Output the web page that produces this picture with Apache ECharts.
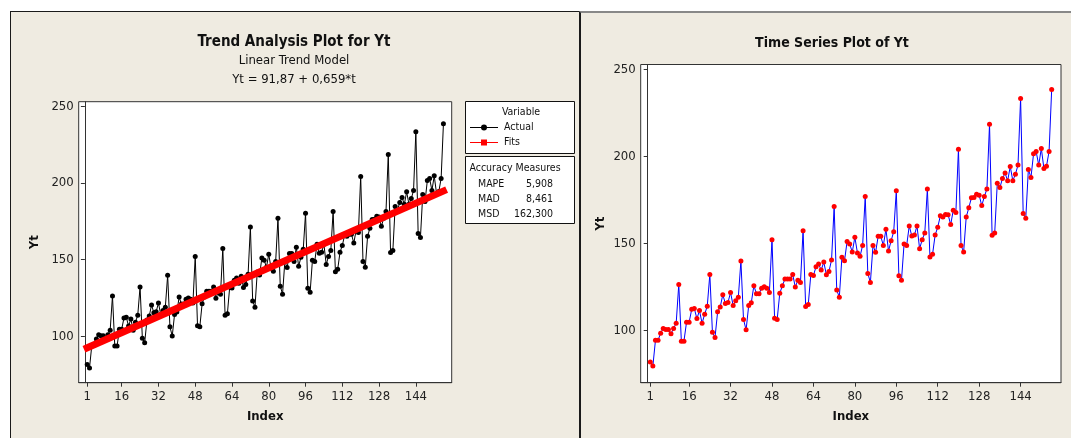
<!DOCTYPE html>
<html lang="en">
<head>
<meta charset="UTF-8">
<title>Trend Analysis Plot for Yt / Time Series Plot of Yt</title>
<script src="https://cdn.jsdelivr.net/npm/echarts@6/dist/echarts.min.js"></script>
<style>
  body { margin: 0; background: #fff; }
  #wrap { position: relative; width: 1071px; height: 438px; overflow: hidden; }
  .panel { position: absolute; background: #EFEBE1; }
  #main { position: absolute; left: 0; top: 0; width: 1071px; height: 438px; }
</style>
</head>
<body>
<div id="wrap">
  <div class="panel" style="left:10px; top:11px; width:568px; height:440px; border:1px solid #1a1a1a;"></div>
  <div class="panel" style="left:579px; top:11px; width:500px; height:440px; border-top:2px solid #888; border-left:2px solid #1a1a1a;"></div>
  <div id="main"></div>
</div>
<script>
// index ticks and value ticks shown on both plots
const indexTicks = [1, 16, 32, 48, 64, 80, 96, 112, 128, 144];
const valueTicks = [100, 150, 200, 250];

// Yt (t = 1..156)
const yt = [
  81.7, 79.4, 94.2, 94.2, 98.3, 101, 100.4, 100.4, 98, 101, 104, 126.3,
  93.7, 93.7, 104.6, 104.6, 112, 112.5, 106.7, 111.3, 104, 109.2, 113.8, 132.1,
  98.8, 95.8, 110.6, 113.3, 120.4, 115.4, 116, 121.7, 114.2, 116.9, 119, 139.8,
  106.2, 100.2, 114.2, 115.8, 125.6, 121, 121, 124.2, 125, 124.2, 121.7, 152.1,
  106.9, 106.2, 121.2, 125.6, 129.4, 129.4, 129.4, 132.1, 124.8, 128.8, 127.5, 157.3,
  113.7, 114.8, 132.1, 131.5, 136.5, 138.1, 134.6, 139.2, 131.9, 133.8, 140.4, 171.2,
  123.1, 119, 142, 140, 151, 149.6, 145, 153.5, 144.4, 142.5, 148.8, 176.9,
  132.7, 127.5, 148.8, 144.8, 154, 154, 148.8, 158.1, 145.6, 151.5, 156.7, 180.2,
  131.3, 128.7, 149.6, 148.8, 160, 154.2, 154.8, 160, 146.9, 152.1, 156, 181.3,
  142.1, 143.7, 154.8, 159.2, 165.8, 165.2, 166.6, 166.5, 160.8, 169, 167.7, 204.2,
  148.8, 145, 165.2, 170.4, 176.2, 176.3, 178.3, 177.7, 171.7, 176.9, 181.3, 218.5,
  154.6, 156, 184.6, 182.1, 187.3, 190.4, 186, 194.2, 186, 189.8, 195, 233.3,
  167.1, 164.4, 192.5, 187.9, 201.5, 202.9, 195, 204.6, 193.1, 194.4, 202.9, 238.5
];

// linear trend fits at the first and last index
const fitIndex = [1, 156];
const fitValues = [92.53, 194.67];

// accuracy measures table
const measureNames = ['MAPE', 'MAD', 'MSD'];
const measureValues = ['5,908', '8,461', '162,300'];

const FONT = '"DejaVu Sans Condensed", "Liberation Sans", sans-serif';
const actualData = yt.map((v, i) => [i + 1, v]);
const fitData = fitIndex.map((t, i) => [t, fitValues[i]]);

function xAxisFor(gridIndex) {
  return {
    gridIndex, type: 'value', min: -2.7, max: 159.6,
    name: 'Index', nameLocation: 'middle', nameGap: 27,
    nameTextStyle: { fontFamily: FONT, fontWeight: 'bold', fontSize: 13, color: '#111' },
    axisLine: { show: true, lineStyle: { color: '#333' } },
    axisTick: { show: true, length: 4, customValues: indexTicks, lineStyle: { color: '#333' } },
    axisLabel: { customValues: indexTicks, fontFamily: FONT, fontSize: 13, color: '#222', margin: 7 },
    splitLine: { show: false }
  };
}
function yAxisFor(gridIndex, gap) {
  return {
    gridIndex, type: 'value', min: 69.8, max: 252.9,
    name: 'Yt', nameLocation: 'middle', nameGap: gap, nameRotate: 90,
    nameTextStyle: { fontFamily: FONT, fontWeight: 'bold', fontSize: 13, color: '#111' },
    axisLine: { show: true, lineStyle: { color: '#333' } },
    axisTick: { show: true, length: 4, customValues: valueTicks, lineStyle: { color: '#333' } },
    axisLabel: { customValues: valueTicks, fontFamily: FONT, fontSize: 13, color: '#222', margin: 5 },
    splitLine: { show: false }
  };
}

function txt(x, y, text, size, opts) {
  return {
    type: 'text', x, y, z: 10,
    style: Object.assign({
      text, font: (opts && opts.bold ? 'bold ' : '') + size + 'px ' + FONT,
      fill: '#111', align: 'center', verticalAlign: 'middle',
      textAlign: 'center', textVerticalAlign: 'middle'
    }, opts && opts.style)
  };
}

const graphics = [
  txt(294, 42, 'Trend Analysis Plot for Yt', 15, { bold: true }),
  txt(294, 61, 'Linear Trend Model', 13),
  txt(294, 80, 'Yt = 91,87 + 0,659*t', 13),
  txt(832, 43, 'Time Series Plot of Yt', 14, { bold: true }),
  // legend box
  { type: 'rect', shape: { x: 465.5, y: 101.5, width: 109, height: 52 }, style: { fill: '#fff', stroke: '#111', lineWidth: 1 } },
  txt(521, 112, 'Variable', 10.5),
  { type: 'line', shape: { x1: 470, y1: 127.5, x2: 498, y2: 127.5 }, style: { stroke: '#000', lineWidth: 1 } },
  { type: 'circle', shape: { cx: 484, cy: 127.5, r: 3 }, style: { fill: '#000' } },
  txt(504, 127.5, 'Actual', 10.5, { style: { align: 'left', textAlign: 'left' } }),
  { type: 'line', shape: { x1: 470, y1: 142.5, x2: 498, y2: 142.5 }, style: { stroke: '#ff0000', lineWidth: 1 } },
  { type: 'rect', shape: { x: 481, y: 139.5, width: 6, height: 6 }, style: { fill: '#ff0000' } },
  txt(504, 142.5, 'Fits', 10.5, { style: { align: 'left', textAlign: 'left' } }),
  // accuracy measures box
  { type: 'rect', shape: { x: 465.5, y: 156.5, width: 109, height: 67 }, style: { fill: '#fff', stroke: '#111', lineWidth: 1 } },
  txt(515, 168, 'Accuracy Measures', 10.5)
];
measureNames.forEach((n, i) => {
  const y = 184 + i * 15;
  graphics.push(txt(478, y, n, 10.5, { style: { align: 'left', textAlign: 'left' } }));
  graphics.push(txt(553, y, measureValues[i], 10.5, { style: { align: 'right', textAlign: 'right' } }));
});

const chart = echarts.init(document.getElementById('main'), null, { renderer: 'canvas' });
chart.setOption({
  animation: false,
  backgroundColor: 'transparent',
  grid: [
    { left: 78.7, top: 101.7, width: 373, height: 281, show: true, backgroundColor: '#fff', borderColor: '#333', borderWidth: 1 },
    { left: 640.7, top: 64.5, width: 420.3, height: 318.2, show: true, backgroundColor: '#fff', borderColor: '#333', borderWidth: 1 }
  ],
  xAxis: [xAxisFor(0), xAxisFor(1)],
  yAxis: [yAxisFor(0, 38), yAxisFor(1, 34)],
  graphic: graphics,
  series: [
    {
      name: 'Actual', type: 'line', xAxisIndex: 0, yAxisIndex: 0, data: actualData,
      symbol: 'circle', symbolSize: 5, showAllSymbol: true, z: 2,
      lineStyle: { color: '#000', width: 1 }, itemStyle: { color: '#000' }
    },
    {
      name: 'Fits', type: 'line', xAxisIndex: 0, yAxisIndex: 0, data: fitData,
      symbol: 'none', z: 3,
      lineStyle: { color: '#ff0000', width: 7, cap: 'square' }
    },
    {
      name: 'Yt', type: 'line', xAxisIndex: 1, yAxisIndex: 1, data: actualData,
      symbol: 'circle', symbolSize: 5, showAllSymbol: true, z: 2,
      lineStyle: { color: '#0000ff', width: 1 }, itemStyle: { color: '#ff0000' }
    }
  ]
});
</script>
</body>
</html>
